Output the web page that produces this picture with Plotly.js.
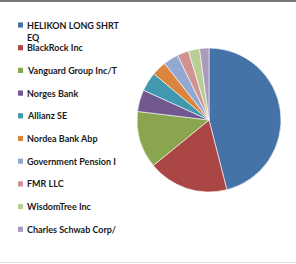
<!DOCTYPE html>
<html>
<head>
<meta charset="utf-8">
<script src="https://cdn.plot.ly/plotly-3.0.1.min.js"></script>
<style>
html,body{margin:0;padding:0;background:#fff;}
#chart{width:296px;height:264px;}
</style>
</head>
<body>
<div id="chart"></div>
<script>
var labels = ["HELIKON LONG SHRT<br>EQ", "BlackRock Inc", "Vanguard Group Inc/T", "Norges Bank", "Allianz SE",
              "Nordea Bank Abp", "Government Pension I", "FMR LLC", "WisdomTree Inc", "Charles Schwab Corp/"];
var values = [46.0, 18.1, 12.8, 4.9, 4.3, 3.3, 3.4, 2.6, 2.5, 2.1];
var colors = ["#4572A7", "#AA4643", "#89A54E", "#71588F", "#4198AF",
              "#DB843D", "#93A9CF", "#D19392", "#B9CD96", "#A99BBD"];

var W = 296, H = 264;
function px(x){ return x / W; }
function py(y){ return 1 - y / H; }

var trace = {
  type: "pie",
  labels: labels,
  values: values,
  sort: false,
  direction: "clockwise",
  rotation: 0,
  textinfo: "none",
  hoverinfo: "label+percent",
  marker: {colors: colors, line: {color: "#ffffff", width: 0.6}},
  domain: {x: [px(137), px(281)], y: [py(192), py(48)]},
  showlegend: false
};

var annotations = [];
var shapes = [];
var rowStart = 25, rowGap = 22.7, lineH = 12;
labels.forEach(function(lab, i){
  var yc = rowStart + rowGap * i;
  var n = lab.split("<br>").length;
  annotations.push({
    xref: "paper", yref: "paper",
    x: px(26), y: py(yc + (n - 1) * lineH / 2),
    xanchor: "left", yanchor: "middle", align: "left",
    showarrow: false, borderpad: 0,
    text: "<b>" + lab + "</b>",
    font: {family: "Lato, 'Open Sans', sans-serif", size: 9, color: "#1a1a1a"}
  });
  shapes.push({
    type: "rect", xref: "paper", yref: "paper",
    x0: px(18), x1: px(23), y0: py(yc + 2.6), y1: py(yc - 2.6),
    fillcolor: colors[i], line: {width: 0}
  });
});
shapes.push({type: "line", xref: "paper", yref: "paper", x0: 0, x1: 1, y0: py(1), y1: py(1),
             line: {color: "#777777", width: 2}});
shapes.push({type: "line", xref: "paper", yref: "paper", x0: 0, x1: 1, y0: py(262.5), y1: py(262.5),
             line: {color: "#e0e0e0", width: 1}});

var layout = {
  width: W, height: H,
  margin: {l: 0, r: 0, t: 0, b: 0},
  paper_bgcolor: "#ffffff",
  plot_bgcolor: "#ffffff",
  showlegend: false,
  annotations: annotations,
  shapes: shapes
};

Plotly.newPlot("chart", [trace], layout, {displayModeBar: false, staticPlot: true});
</script>
</body>
</html>
